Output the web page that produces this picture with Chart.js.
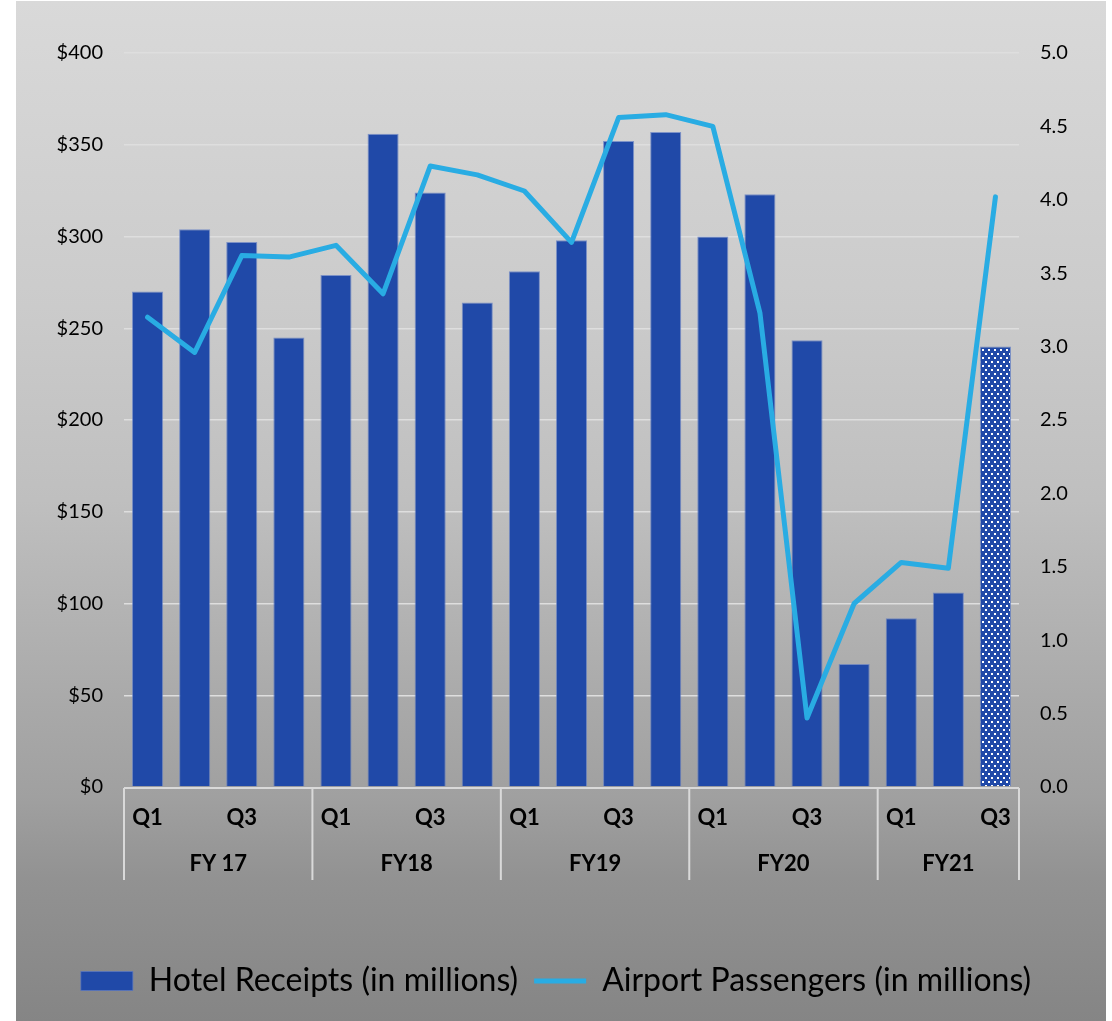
<!DOCTYPE html>
<html>
<head>
<meta charset="utf-8">
<title>Hotel Receipts and Airport Passengers</title>
<script src="https://cdn.jsdelivr.net/npm/chart.js@4.4.0/dist/chart.umd.min.js"></script>
<style>
  html, body { margin: 0; padding: 0; background: #ffffff; overflow: hidden; }
  canvas { display: block; }
</style>
</head>
<body>
<canvas id="chart" width="1112" height="1021"></canvas>
<script>
// Quarterly categories, grouped by fiscal year
const quarters = [
  'Q1', 'Q2', 'Q3', 'Q4',
  'Q1', 'Q2', 'Q3', 'Q4',
  'Q1', 'Q2', 'Q3', 'Q4',
  'Q1', 'Q2', 'Q3', 'Q4',
  'Q1', 'Q2', 'Q3'
];
const fiscalYears = ['FY 17', 'FY18', 'FY19', 'FY20', 'FY21'];
const quartersPerYear = [4, 4, 4, 4, 3];

// Hotel receipts, $ millions
const hotelReceipts = [
  270, 304, 297, 245,
  279, 356, 324, 264,
  281, 298, 352, 357,
  300, 323, 243.5, 67,
  92, 106, 240
];

// Airport passengers, millions
const airportPassengers = [
  3.20, 2.96, 3.62, 3.61,
  3.69, 3.36, 4.23, 4.17,
  4.06, 3.71, 4.56, 4.58,
  4.50, 3.23, 0.47, 1.25,
  1.53, 1.49, 4.02
];

// Axis tick values
const receiptTicks = [0, 50, 100, 150, 200, 250, 300, 350, 400];
const passengerTicks = [0, 0.5, 1.0, 1.5, 2.0, 2.5, 3.0, 3.5, 4.0, 4.5, 5.0];

const BAR_BLUE = '#2049A8';
const LINE_BLUE = '#29ACE3';
const FONT = 'Lato';

// Dotted fill used for the latest (partial) quarter
function dottedPattern() {
  const tile = document.createElement('canvas');
  tile.width = 6;
  tile.height = 8;
  const g = tile.getContext('2d');
  g.fillStyle = BAR_BLUE;
  g.fillRect(0, 0, 6, 8);
  g.fillStyle = '#ffffff';
  g.fillRect(1, 1, 2, 2);
  g.fillRect(4, 5, 2, 2);
  return g.createPattern(tile, 'repeat');
}
const pattern = dottedPattern();
const barColors = hotelReceipts.map((v, i) => i === hotelReceipts.length - 1 ? pattern : BAR_BLUE);

// Grey gradient panel behind the whole chart
const panelBackground = {
  id: 'panelBackground',
  beforeDraw(chart) {
    const ctx = chart.ctx;
    const h = chart.height;
    const grad = ctx.createLinearGradient(0, 0, 0, h);
    grad.addColorStop(0.00, '#d9d9d9');
    grad.addColorStop(0.30, '#cbcbcb');
    grad.addColorStop(0.49, '#bfbfbf');
    grad.addColorStop(0.69, '#a9a9a9');
    grad.addColorStop(0.78, '#a0a0a0');
    grad.addColorStop(0.86, '#929292');
    grad.addColorStop(1.00, '#858585');
    ctx.save();
    ctx.fillStyle = grad;
    ctx.fillRect(16, 1, chart.width - 22, h - 1);
    ctx.restore();
  }
};

// Fiscal-year grouping row below the quarter labels
const yearGroups = {
  id: 'yearGroups',
  afterDraw(chart) {
    const ctx = chart.ctx;
    const xs = chart.scales.x;
    const area = chart.chartArea;
    const step = xs.getPixelForValue(1) - xs.getPixelForValue(0);
    const top = area.bottom + 1;
    const bottom = area.bottom + 93;
    ctx.save();
    ctx.strokeStyle = '#d9d9d9';
    ctx.lineWidth = 2;
    ctx.beginPath();
    ctx.moveTo(area.left, top);
    ctx.lineTo(area.right, top);
    let start = 0;
    const edges = [xs.getPixelForValue(0) - step / 2];
    quartersPerYear.forEach(n => {
      start += n;
      edges.push(xs.getPixelForValue(start - 1) + step / 2);
    });
    edges.forEach(x => {
      ctx.moveTo(x, top);
      ctx.lineTo(x, bottom);
    });
    ctx.stroke();

    ctx.fillStyle = '#000000';
    ctx.font = 'bold 22px ' + FONT;
    ctx.textAlign = 'center';
    ctx.textBaseline = 'middle';
    fiscalYears.forEach((label, i) => {
      ctx.fillText(label, (edges[i] + edges[i + 1]) / 2, area.bottom + 77);
    });
    ctx.restore();
  }
};

new Chart(document.getElementById('chart'), {
  data: {
    labels: quarters,
    datasets: [
      {
        type: 'bar',
        label: 'Hotel Receipts (in millions)',
        data: hotelReceipts,
        yAxisID: 'y',
        backgroundColor: barColors,
        borderColor: 'rgba(90,120,195,0.7)',
        borderWidth: 1,
        barPercentage: 0.66,
        categoryPercentage: 1,
        pointStyle: 'rect',
        order: 2
      },
      {
        type: 'line',
        label: 'Airport Passengers (in millions)',
        data: airportPassengers,
        yAxisID: 'y1',
        borderColor: LINE_BLUE,
        backgroundColor: LINE_BLUE,
        borderWidth: 5,
        borderJoinStyle: 'round',
        borderCapStyle: 'round',
        tension: 0,
        fill: false,
        pointRadius: 0,
        pointHoverRadius: 0,
        pointStyle: 'line',
        order: 1
      }
    ]
  },
  options: {
    responsive: false,
    animation: false,
    devicePixelRatio: 1,
    layout: { padding: { top: 53, bottom: 14, left: 0, right: 0 } },
    plugins: {
      tooltip: { enabled: false },
      legend: {
        position: 'bottom',
        labels: {
          usePointStyle: true,
          pointStyleWidth: 52,
          boxHeight: 19,
          padding: 16,
          color: '#000000',
          font: { family: FONT, size: 32 },
          sort: (a, b) => a.datasetIndex - b.datasetIndex
        }
      }
    },
    scales: {
      x: {
        type: 'category',
        offset: true,
        grid: { display: false, drawTicks: false },
        border: { display: false },
        ticks: {
          autoSkip: false,
          maxRotation: 0,
          padding: 18,
          color: '#000000',
          font: { family: FONT, size: 22, weight: 'bold' },
          callback: (value, index) => index % 2 === 0 ? quarters[index] : ''
        },
        afterFit: s => { s.height = 162; }
      },
      y: {
        position: 'left',
        min: 0,
        max: 400,
        afterBuildTicks: s => { s.ticks = receiptTicks.map(v => ({ value: v })); },
        grid: {
          color: c => c.tick && c.tick.value === 0 ? 'rgba(0,0,0,0)' : '#dedede',
          lineWidth: 1.5,
          drawTicks: false
        },
        border: { display: false },
        ticks: {
          padding: 21,
          color: '#000000',
          font: { family: FONT, size: 20 },
          callback: v => '$' + v
        },
        afterFit: s => { s.width = 124; }
      },
      y1: {
        position: 'right',
        min: 0,
        max: 5,
        afterBuildTicks: s => { s.ticks = passengerTicks.map(v => ({ value: v })); },
        grid: { display: false, drawTicks: false },
        border: { display: false },
        ticks: {
          padding: 21,
          color: '#000000',
          font: { family: FONT, size: 20 },
          callback: v => Number(v).toFixed(1)
        },
        afterFit: s => { s.width = 93; }
      }
    }
  },
  plugins: [panelBackground, yearGroups]
});
</script>
</body>
</html>
